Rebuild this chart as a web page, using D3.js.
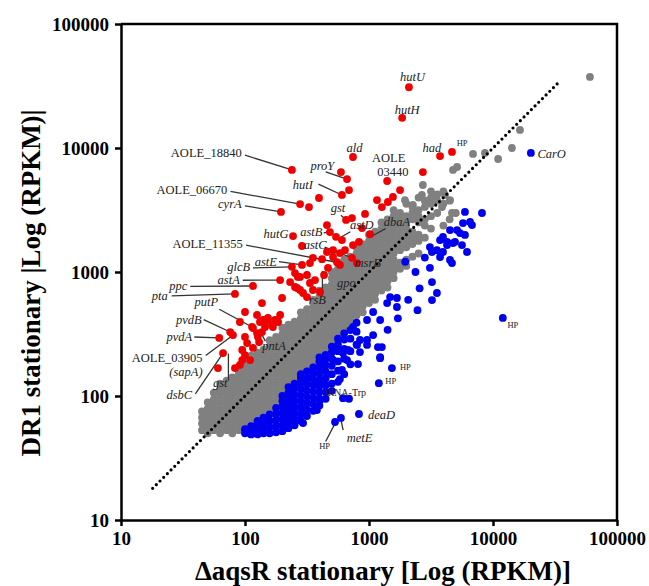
<!DOCTYPE html>
<html>
<head>
<meta charset="utf-8">
<script src="https://cdn.jsdelivr.net/npm/d3@7"></script>
<style>
body { margin: 0; background: #fff; }
svg text { font-family: "Liberation Serif", "Times New Roman", serif; }
</style>
</head>
<body>
<div id="chart"></div>
<script>
// tick values shared by both log axes
var ticks = [10, 100, 1000, 10000, 100000];

// unchanged genes (grey), read column by column: [x, [y, y, ...]]
var grayRows = [
  [45, [53, 60, 67, 75]],
  [50, [50, 56, 63, 71, 79, 89]],
  [56, [53, 60, 67, 75, 84, 94, 106]],
  [63, [50, 56, 63, 71, 79, 89, 100, 112, 126]],
  [71, [53, 60, 67, 75, 84, 94, 106, 119, 133]],
  [79, [50, 56, 63, 71, 79, 89, 100, 112, 126, 141]],
  [89, [53, 60, 67, 75, 84, 94, 106, 119, 133, 150, 168]],
  [100, [56, 63, 71, 79, 89, 100, 112, 126, 141, 158, 178, 200]],
  [112, [60, 67, 75, 84, 94, 106, 119, 133, 150, 168, 189, 212]],
  [126, [63, 71, 79, 89, 100, 112, 126, 141, 158, 178, 200, 224]],
  [141, [67, 75, 84, 94, 106, 119, 133, 150, 168, 189, 212, 237]],
  [158, [79, 89, 100, 112, 126, 141, 158, 178, 200, 224, 251, 282]],
  [178, [84, 94, 106, 119, 133, 150, 168, 189, 212, 237, 266, 299]],
  [200, [112, 126, 141, 158, 178, 200, 224, 251, 282, 316, 355]],
  [224, [133, 150, 168, 189, 212, 237, 266, 299, 335, 376]],
  [251, [141, 158, 178, 200, 224, 251, 282, 316, 355, 398]],
  [282, [168, 189, 212, 237, 266, 299, 335, 376, 422, 473]],
  [316, [178, 200, 224, 251, 282, 316, 355, 398, 447, 501]],
  [355, [189, 212, 237, 266, 299, 335, 376, 422, 473, 531, 596]],
  [398, [224, 251, 282, 316, 355, 398, 447, 501, 562, 631, 708]],
  [447, [237, 266, 299, 335, 376, 422, 473, 531, 596, 668, 750]],
  [501, [282, 316, 355, 398, 447, 501, 562, 631, 708, 794, 891, 1000]],
  [562, [299, 335, 376, 422, 473, 531, 596, 668, 750, 841, 944, 1060]],
  [631, [355, 398, 447, 501, 562, 631, 708, 794, 891, 1000, 1120, 1260]],
  [708, [376, 422, 473, 531, 596, 668, 750, 841, 944, 1060, 1190, 1330]],
  [794, [447, 501, 562, 631, 708, 794, 891, 1000, 1120, 1260, 1410, 1580]],
  [891, [473, 531, 596, 668, 750, 841, 944, 1060, 1190, 1330, 1500, 1680]],
  [1000, [562, 631, 708, 794, 891, 1000, 1120, 1260, 1410, 1580, 1780, 2000]],
  [1120, [596, 668, 750, 841, 944, 1060, 1190, 1330, 1500, 1680, 1890, 2120]],
  [1260, [708, 794, 891, 1000, 1120, 1260, 1410, 1580, 1780, 2000, 2240, 2510]],
  [1410, [750, 841, 944, 1060, 1190, 1330, 1500, 1680, 1890, 2120, 2370, 2660]],
  [1580, [891, 1000, 1120, 1260, 1410, 1580, 1780, 2000, 2240, 2510, 2820, 3160]],
  [1780, [1060, 1190, 1500, 1680, 1890, 2120, 2370, 2660, 2990]],
  [2000, [1120, 1260, 1580, 1780, 2000, 2240, 2510, 2820, 3550]],
  [2240, [1330, 1680, 1890, 2120, 2660, 2990, 3350]],
  [2510, [1410, 1780, 2000, 2510, 2820, 3160, 3980]],
  [2820, [1890, 2370, 2660, 3350, 3760]],
  [3160, [2240, 2820, 3550, 3980, 4470]],
  [3550, [2990, 3760, 4220]],
  [3980, [2370, 3550, 4470]],
  [4470, [2660, 3760]],
  [5010, [2990]]
];
var grayExtra = [
  [60500, 37400], [16500, 14000], [14200, 10000], [11000, 8150], [8610, 9120],
  [6900, 8950], [5130, 7030], [4760, 6650], [2720, 5030], [2670, 4180],
  [1950, 3800], [2260, 3470], [4100, 4180], [4500, 3800], [3880, 3340], [4670, 2990]
];

// up-regulated in DR1 (red)
var redPts = [
  [2100, 30900], [1850, 17500], [3740, 8600], [4670, 9290], [2720, 6400], [1400, 5420],
  [1780, 4580], [1560, 4030], [1420, 3670], [1160, 3800], [1270, 3340], [743, 8460],
  [594, 6400], [665, 5620], [690, 4580], [605, 4180], [395, 3950], [328, 3340],
  [278, 3530], [195, 3050], [239, 6650], [929, 2940], [729, 2720], [653, 2630],
  [458, 2390], [484, 2100], [542, 1920], [605, 1810], [244, 1950], [288, 1620],
  [743, 1650], [830, 1750], [1020, 2020], [878, 2260], [458, 1450], [513, 1500],
  [583, 1420], [353, 1300], [418, 1270], [467, 1080], [434, 946], [513, 1320],
  [552, 1200], [334, 1180], [288, 1140], [239, 1100], [253, 980], [192, 861],
  [116, 771], [83, 665], [231, 830], [267, 912], [253, 757], [278, 716],
  [294, 677], [199, 617], [137, 562], [100, 476], [125, 450], [91, 395],
  [114, 360], [132, 395], [140, 410], [153, 410], [175, 410], [185, 395],
  [168, 360], [137, 328], [125, 322], [76, 328], [80, 310], [62, 294],
  [100, 299], [127, 299], [130, 272], [104, 267], [95, 235], [116, 244],
  [66.5, 222], [100, 214], [95, 195], [91, 178], [83, 168], [60.5, 168],
  [110, 195], [116, 353], [145, 360], [165, 374], [192, 450], [153, 426],
  [353, 716], [403, 690], [316, 628], [263, 743], [367, 861], [334, 815],
  [278, 912], [316, 946], [640, 1500], [729, 1300], [800, 1180], [583, 1140]
];

// up-regulated in the aqsR mutant (blue): dense columns, then single points
var blueRows = [
  [100, [50, 54]],
  [112, [49, 53, 57]],
  [126, [49, 54, 60, 63]],
  [141, [50, 55, 61, 67]],
  [158, [50, 56, 63, 71]],
  [178, [51, 57, 64, 72, 80]],
  [200, [52, 58, 65, 73, 82, 91, 100]],
  [224, [55, 61, 68, 76, 85, 95, 106, 118]],
  [251, [58, 65, 73, 82, 92, 103, 115, 126]],
  [282, [63, 71, 80, 90, 101, 114, 128, 140, 150]],
  [316, [69, 78, 88, 99, 111, 125, 140, 158]],
  [355, [76, 86, 97, 109, 123, 138, 155, 170]],
  [398, [84, 95, 107, 120, 135, 152, 171, 190, 205]],
  [447, [95, 108, 122, 139, 158, 178, 200, 215]],
  [501, [110, 126, 150, 175, 200, 225, 250]],
  [562, [130, 160, 190, 230, 260, 290]],
  [631, [150, 200, 240, 285, 320]],
  [708, [180, 230, 290, 340]],
  [794, [260, 330, 390]]
];
var bluePts = [
  [1530, 168], [1200, 127], [617, 96], [690, 95], [830, 71.6], [594, 66.5],
  [532, 61.7], [380, 77.1], [403, 92.9], [294, 60.5], [305, 74.3], [815, 181],
  [1230, 202], [964, 258], [1270, 248], [605, 162], [583, 137], [552, 248],
  [617, 222], [846, 226], [800, 258], [426, 195], [353, 153], [403, 127],
  [743, 360], [1080, 476], [1230, 410], [964, 410], [677, 235], [1180, 248],
  [1230, 206], [1680, 617], [1480, 628], [1400, 562], [1680, 522], [1080, 310],
  [846, 283], [964, 283], [665, 195], [513, 195],
  [1960, 1210], [2370, 1000], [2560, 738], [2070, 597], [2460, 492], [1710, 423],
  [2820, 1306], [1413, 342],
  [8150, 2990], [5940, 3050], [5730, 2480], [6530, 2530], [6770, 2390], [4500, 2180],
  [5420, 2060], [5940, 1990], [3740, 1810], [4260, 1750], [4760, 1710], [5620, 1650],
  [6170, 1450], [3530, 1500], [3950, 1450], [4500, 1250], [4670, 1180], [3740, 1320],
  [3220, 1450], [3100, 1080], [3220, 830], [3530, 677], [3220, 594], [12000, 426],
  [20200, 9120], [5130, 2180], [3950, 1920], [3100, 1590], [4260, 1650], [4940, 1750]
];

// gene labels: text, label x, label y, anchor, kind, leader [x1, y1, x2, y2]
var notes = [
  ["AOLE_18840", 94, 8430, "end", "r", [100, 8750, 239, 6650]],
  ["ald", 765, 9290, "middle", "i", null],
  ["proY", 421, 6680, "middle", "i", [447, 6430, 665, 5620]],
  ["hutI", 293, 4640, "middle", "i", [391, 5110, 605, 4180]],
  ["AOLE_06670", 72, 4230, "end", "r", [76.4, 4467, 278, 3530]],
  ["cyrA", 94, 3280, "end", "i", [100, 3420, 195, 3050]],
  ["gst", 562, 3040, "middle", "i", [594, 2870, 653, 2630]],
  ["AOLE", 1440, 7770, "middle", "r", null],
  ["03440", 1556, 5960, "middle", "r", null],
  ["hutU", 2239, 34800, "middle", "i", null],
  ["hutH", 2030, 18860, "middle", "i", null],
  ["had", 3220, 9290, "middle", "i", null],
  ["HP", 5100, 10380, "start", "s", null],
  ["CarO", 22800, 8240, "start", "i", null],
  ["hutG", 224, 1890, "end", "i", null],
  ["astB", 421, 1960, "end", "i", [431, 2070, 492, 2110]],
  ["astD", 875, 2239, "middle", "i", [708, 2110, 583, 1890]],
  ["astC", 368, 1530, "middle", "i", [439, 1585, 729, 1300]],
  ["AOLE_11355", 96, 1556, "end", "r", [102, 1645, 562, 1193]],
  ["astE", 181, 1122, "end", "i", [188, 1213, 288, 1140]],
  ["glcB", 110, 1019, "end", "i", [116, 1080, 239, 1100]],
  ["astA", 90.8, 794, "end", "i", [96, 858, 192, 861]],
  ["ppc", 34.2, 721, "end", "i", [36.2, 765, 116, 771]],
  ["pta", 23.8, 597, "end", "i", [25.6, 643, 83, 665]],
  ["putP", 60.8, 532, "end", "i", [62, 501, 114, 360]],
  ["pvdB", 44.7, 383, "end", "i", [46.4, 413, 76, 328]],
  ["pvdA", 37.5, 277, "end", "i", [39, 299, 62, 294]],
  ["AOLE_03905", 45.5, 189, "end", "r", [48.2, 212, 82.4, 316]],
  ["(sapA)", 45.5, 144, "end", "i", null],
  ["dsbC", 37.5, 94.6, "end", "i", [39.8, 104, 66.5, 222]],
  ["gst", 63.1, 119, "middle", "i", [73.5, 133, 73.5, 220]],
  ["pntA", 138, 233, "start", "i", [146, 277, 136, 316]],
  ["rsB", 383, 552, "middle", "i", [421, 643, 421, 1019]],
  ["gpo", 552, 752, "start", "i", null],
  ["msrB", 765, 1100, "start", "i", null],
  ["dbaA", 1680, 2330, "middle", "i", [1360, 2239, 1000, 1890]],
  ["HP", 13060, 355, "start", "s", null],
  ["HP", 1778, 161, "start", "s", null],
  ["HP", 1355, 124, "start", "s", null],
  ["tRNA-Trp", 439, 100, "start", "t", null],
  ["deaD", 982, 65.5, "start", "i", null],
  ["metE", 840, 42.3, "middle", "i", [619, 53.1, 594, 64.3]],
  ["HP", 439, 37.6, "middle", "s", [447, 42.9, 530, 59.6]]
];

var W = 649, H = 586;
var svg = d3.select("#chart").append("svg")
    .attr("width", W)
    .attr("height", H);

var x = d3.scaleLog().domain([10, 100000]).range([121, 617]);
var y = d3.scaleLog().domain([10, 100000]).range([520, 24]);

function flat(rows) {
    var out = [];
    rows.forEach(function(r) {
        r[1].forEach(function(v) { out.push([r[0], v]); });
    });
    return out;
}
var gray = flat(grayRows).concat(grayExtra);
var blue = flat(blueRows).concat(bluePts);

// frame (top + right)
svg.append("path")
    .attr("d", "M" + x(10) + "," + y(100000) + "H" + x(100000) + "V" + y(10))
    .attr("fill", "none").attr("stroke", "#000").attr("stroke-width", 2.5);

function dots(data, col) {
    svg.append("g").selectAll("circle")
        .data(data).enter().append("circle")
        .attr("cx", function(d) { return x(d[0]); })
        .attr("cy", function(d) { return y(d[1]); })
        .attr("r", 3.9)
        .attr("fill", col);
}

dots(gray, "#808080");

// y = x reference line
svg.append("line")
    .attr("x1", x(18)).attr("y1", y(18))
    .attr("x2", x(33000)).attr("y2", y(33000))
    .attr("stroke", "#000").attr("stroke-width", 3.2)
    .attr("stroke-linecap", "round").attr("stroke-dasharray", "0,5.2");

// leader lines
svg.append("g").selectAll("line")
    .data(notes.filter(function(n) { return n[5]; })).enter().append("line")
    .attr("x1", function(n) { return x(n[5][0]); })
    .attr("y1", function(n) { return y(n[5][1]); })
    .attr("x2", function(n) { return x(n[5][2]); })
    .attr("y2", function(n) { return y(n[5][3]); })
    .attr("stroke", "#333").attr("stroke-width", 1.3);

dots(redPts, "#f00000");
dots(blue, "#0000f0");

var fs = { r: 12.5, i: 12.5, s: 8.5, t: 10 };
svg.append("g").selectAll("text")
    .data(notes).enter().append("text")
    .attr("x", function(n) { return x(n[1]); })
    .attr("y", function(n) { return y(n[2]); })
    .attr("text-anchor", function(n) { return n[3]; })
    .style("font-size", function(n) { return fs[n[4]] + "px"; })
    .style("font-style", function(n) { return n[4] == "i" ? "italic" : "normal"; })
    .attr("fill", "#222")
    .text(function(n) { return n[0]; });

// axes
var xAxis = d3.axisBottom(x).tickValues(ticks).tickFormat(d3.format("d"))
    .tickSize(6).tickSizeOuter(0).tickPadding(6);
var yAxis = d3.axisLeft(y).tickValues(ticks).tickFormat(d3.format("d"))
    .tickSize(6).tickSizeOuter(0).tickPadding(6);

var gx = svg.append("g").attr("transform", "translate(0," + y(10) + ")").call(xAxis);
var gy = svg.append("g").attr("transform", "translate(" + x(10) + ",0)").call(yAxis);
[gx, gy].forEach(function(g) {
    g.select(".domain").attr("stroke-width", 2.5);
    g.selectAll(".tick line").attr("stroke-width", 2.5);
    g.selectAll(".tick text")
        .attr("font-family", "Liberation Serif, serif")
        .attr("font-size", 19).attr("font-weight", "bold").attr("fill", "#000");
});

svg.append("text")
    .attr("x", 383).attr("y", 580)
    .attr("text-anchor", "middle")
    .style("font-size", "27px").style("font-weight", "bold")
    .text("\u0394aqsR stationary [Log (RPKM)]");

svg.append("text")
    .attr("transform", "translate(40,283) rotate(-90)")
    .attr("text-anchor", "middle")
    .style("font-size", "27px").style("font-weight", "bold")
    .text("DR1 stationary |Log (RPKM)|");
</script>
</body>
</html>
